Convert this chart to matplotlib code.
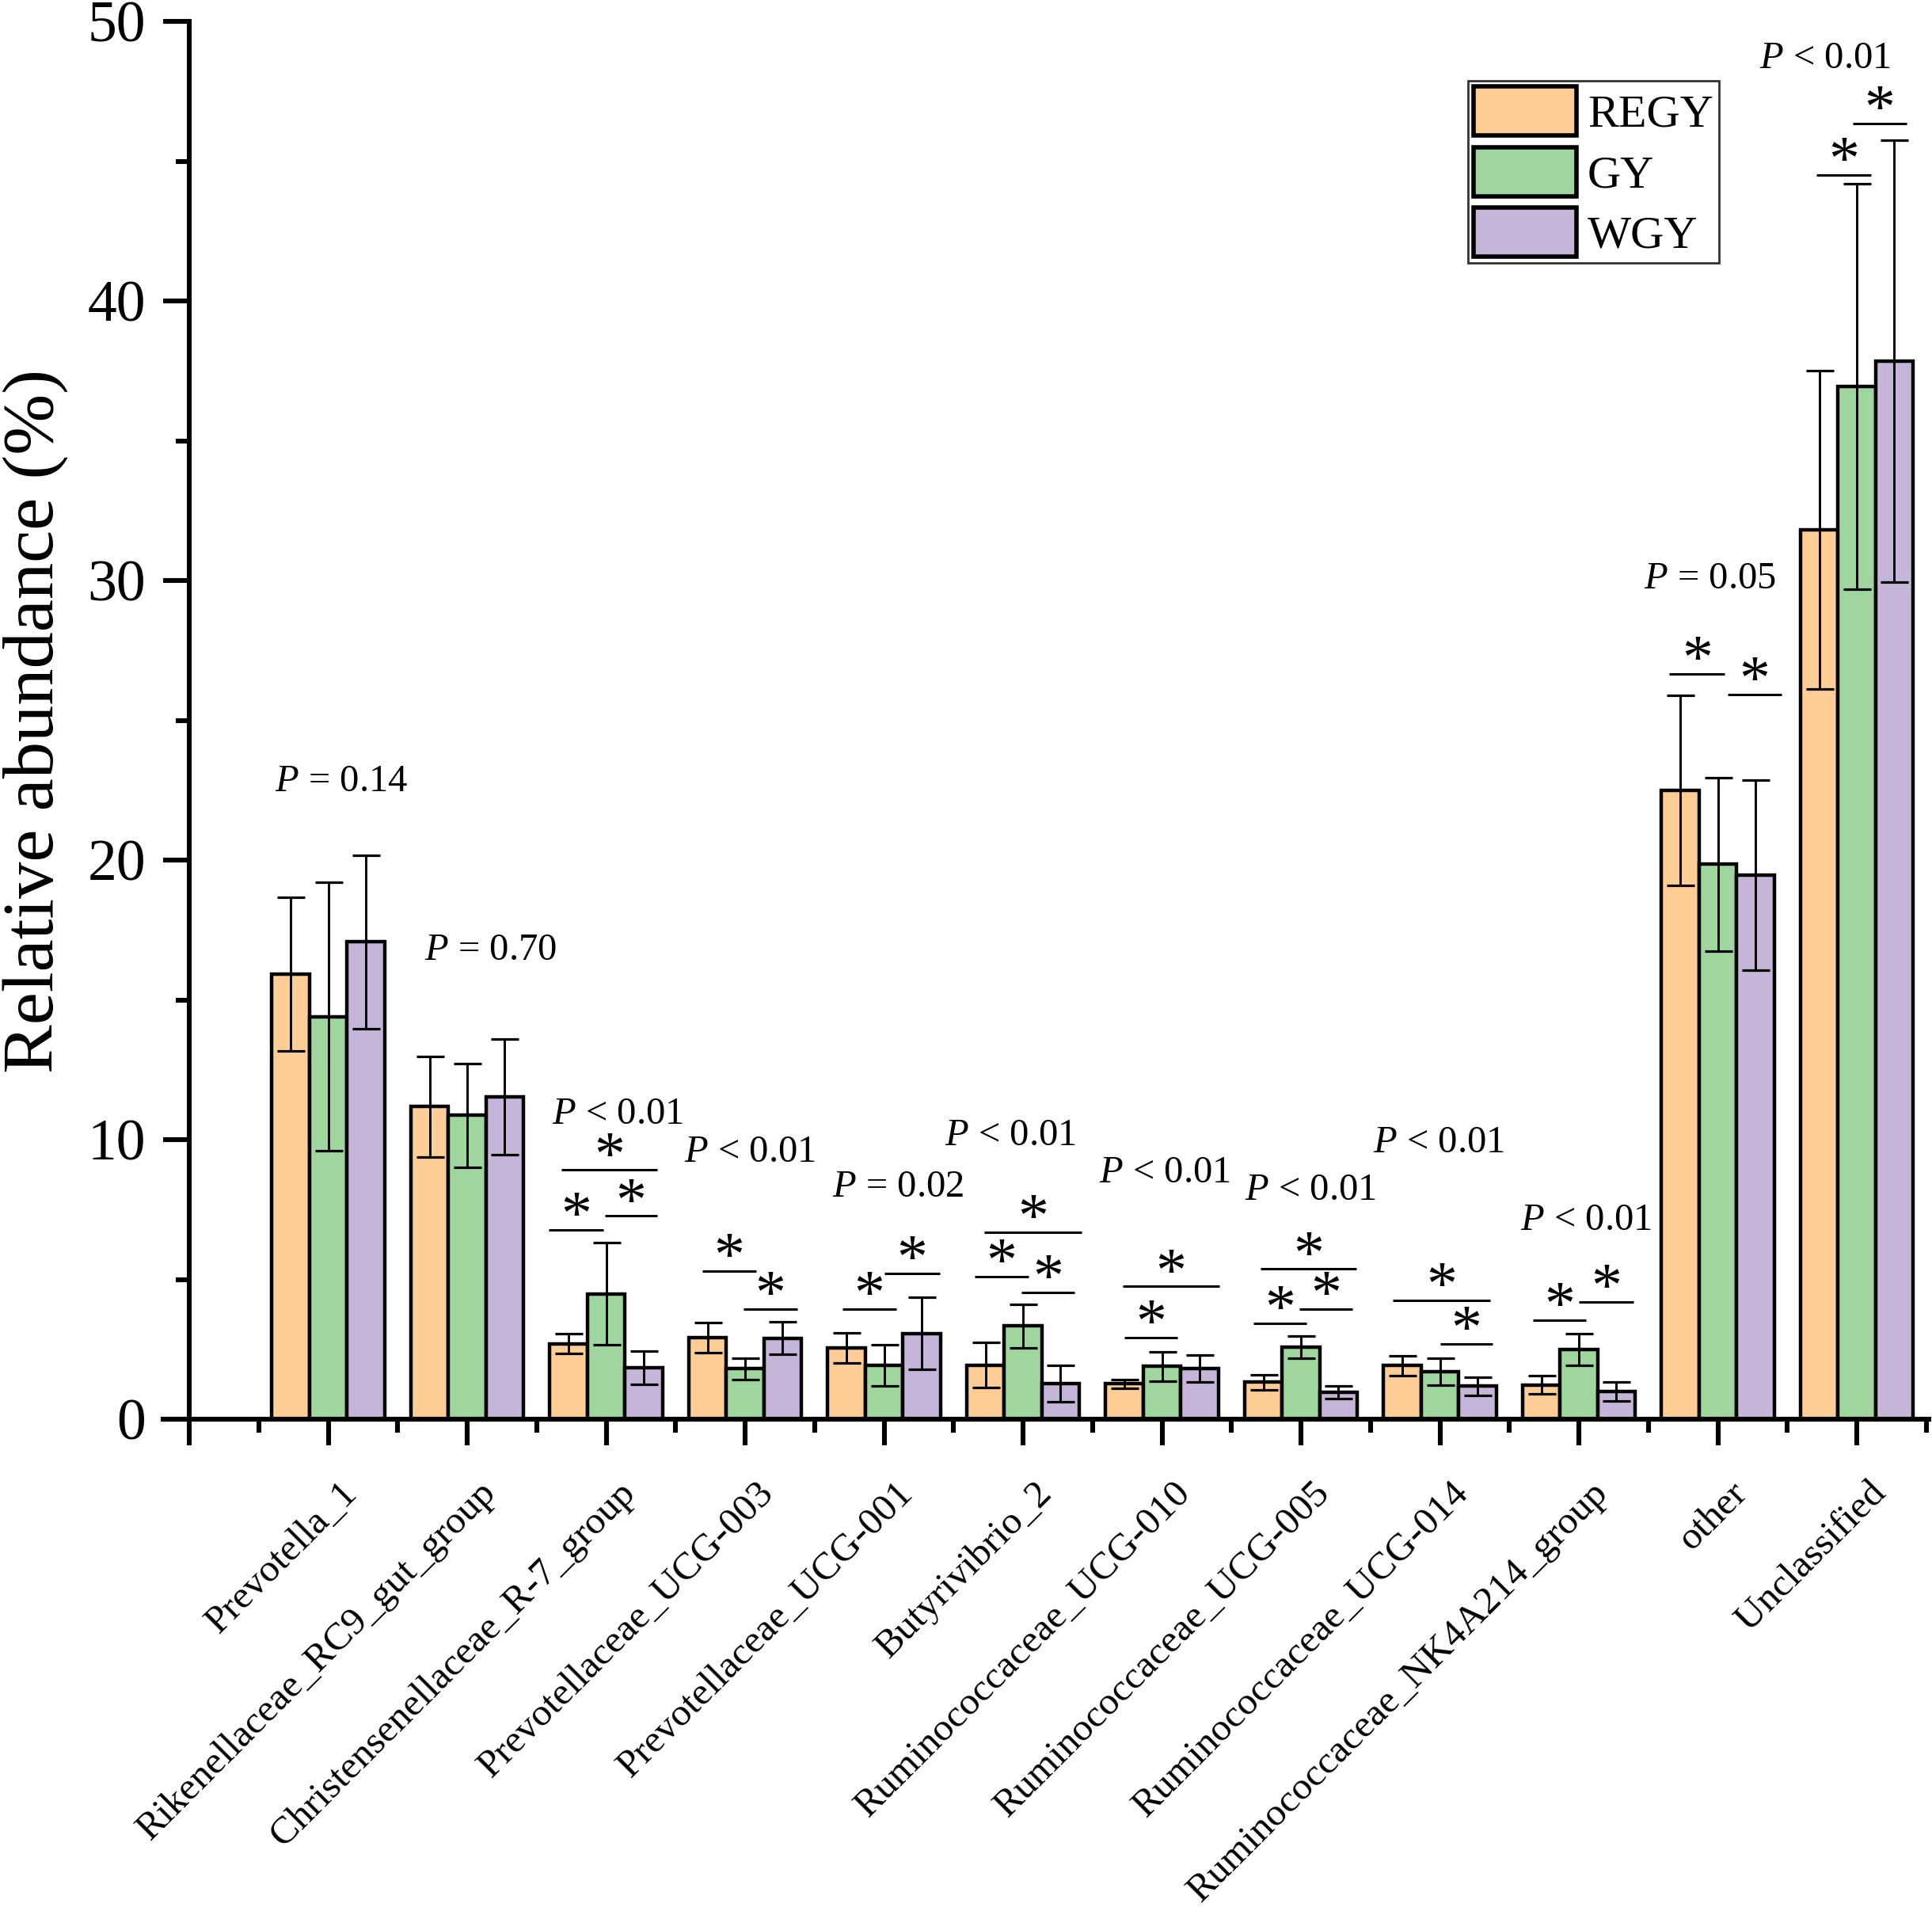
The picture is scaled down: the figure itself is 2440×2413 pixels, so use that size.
import matplotlib
matplotlib.use("Agg")
import matplotlib.pyplot as plt
import matplotlib.transforms as mtransforms
import numpy as np
from matplotlib.patches import Patch

plt.rcParams['font.family'] = ['Liberation Serif', 'DejaVu Serif']
plt.rcParams['mathtext.fontset'] = 'custom'
plt.rcParams['mathtext.it'] = 'Liberation Serif:italic'
plt.rcParams['mathtext.rm'] = 'Liberation Serif'

# ---------------- data ----------------
categories = ['Prevotella_1', 'Rikenellaceae_RC9_gut_group', 'Christensenellaceae_R-7_group',
              'Prevotellaceae_UCG-003', 'Prevotellaceae_UCG-001', 'Butyrivibrio_2',
              'Ruminococcaceae_UCG-010', 'Ruminococcaceae_UCG-005', 'Ruminococcaceae_UCG-014',
              'Ruminococcaceae_NK4A214_group', 'other', 'Unclassified']
groups = ['REGY', 'GY', 'WGY']

regy = [15.93, 11.18, 2.70, 2.93, 2.55, 1.94, 1.27, 1.32, 1.92, 1.23, 22.49, 31.82]
regy_err = [2.75, 1.80, 0.35, 0.54, 0.55, 0.82, 0.16, 0.27, 0.35, 0.33, 3.40, 5.70]
gy = [14.40, 10.87, 4.49, 1.80, 1.92, 3.33, 1.89, 2.57, 1.70, 2.50, 19.85, 36.95]
gy_err = [4.80, 1.85, 1.83, 0.39, 0.73, 0.78, 0.52, 0.40, 0.49, 0.57, 3.10, 7.25]
wgy = [17.08, 11.53, 1.85, 2.90, 3.07, 1.28, 1.81, 0.96, 1.18, 0.99, 19.45, 37.85]
wgy_err = [3.10, 2.07, 0.60, 0.58, 1.29, 0.66, 0.48, 0.23, 0.32, 0.35, 3.40, 7.90]

p_labels = ['$P$ = 0.14', '$P$ = 0.70', '$P$ < 0.01', '$P$ < 0.01', '$P$ = 0.02', '$P$ < 0.01',
            '$P$ < 0.01', '$P$ < 0.01', '$P$ < 0.01', '$P$ < 0.01', '$P$ = 0.05', '$P$ < 0.01']
# annotation placement (x in category units, y = text baseline)
p_x = [1.095, 2.17, 3.083, 4.034, 5.10, 5.91, 7.02, 8.07, 8.99, 10.05, 10.94, 11.77]
p_y = [22.47, 16.42, 10.58, 9.21, 7.97, 9.80, 8.48, 7.85, 9.55, 6.76, 29.71, 48.33]

# significance bars: (category index, x start offset, x end offset, height)
sig_lines = [
    (2, -0.415, -0.02, 6.78), (2, -0.01, 0.37, 7.27), (2, -0.325, 0.37, 8.91),
    (3, -0.31, 0.08, 5.29), (3, -0.01, 0.375, 3.95),
    (4, -0.30, 0.09, 3.95), (4, 0.00, 0.40, 5.22),
    (5, -0.35, 0.04, 5.10), (5, -0.01, 0.37, 4.53), (5, -0.28, 0.42, 6.69),
    (6, -0.27, 0.11, 2.91), (6, -0.28, 0.41, 4.75),
    (7, -0.34, 0.04, 3.43), (7, -0.01, 0.37, 3.95), (7, -0.29, 0.40, 5.37),
    (8, -0.34, 0.36, 4.25), (8, 0.00, 0.38, 2.70),
    (9, -0.33, 0.05, 3.54), (9, 0.00, 0.39, 4.20),
    (10, -0.35, 0.05, 26.67), (10, 0.07, 0.46, 25.93),
    (11, -0.29, 0.10, 44.50), (11, -0.03, 0.36, 46.35),
]

colors = ['#FECD95', '#9ED69E', '#C5B5D8']

# ---------------- figure ----------------
fig = plt.figure(figsize=(12.2, 12.065), dpi=200)
ax = fig.add_axes([0.0843, 0.25735, 0.9142, 0.73145])

x = np.arange(1, len(categories) + 1)
w = 0.27
lw_axis = 2.2
series = [(regy, regy_err), (gy, gy_err), (wgy, wgy_err)]
for i, (vals, errs) in enumerate(series):
    pos = x + (i - 1) * w
    ax.bar(pos, vals, width=w, color=colors[i], edgecolor='black', linewidth=1.6,
           label=groups[i], zorder=2)
    ax.errorbar(pos, vals, yerr=errs, fmt='none', ecolor='black', elinewidth=1.05,
                capsize=6.3, capthick=1.15, zorder=3)

for (g, x0, x1, yv) in sig_lines:
    c = g + 1
    ax.plot([c + x0, c + x1], [yv, yv], color='black', lw=1.1, solid_capstyle='butt', zorder=4)
    ax.annotate('*', xy=(c + (x0 + x1) / 2, yv), xytext=(0, -1.5), textcoords='offset points',
                ha='center', va='baseline', fontsize=28, zorder=5)

for lab, px, py in zip(p_labels, p_x, p_y):
    ax.text(px, py, lab, ha='center', va='baseline', fontsize=17.5)

ax.set_xlim(-0.19, 12.52)
ax.set_ylim(0, 50)
ax.spines['top'].set_visible(False)
ax.spines['right'].set_visible(False)
ax.spines['left'].set_position(('data', 0))
ax.spines['left'].set_linewidth(lw_axis)
ax.spines['bottom'].set_linewidth(lw_axis)

ax.set_yticks(np.arange(0, 51, 10))
ax.set_yticks(np.arange(5, 50, 10), minor=True)
ax.set_xticks(np.arange(0, 13, 1))
ax.set_xticks(np.arange(0.5, 12.6, 1), minor=True)
ax.set_xticklabels([''] + categories)
ax.tick_params(axis='both', which='major', length=12, width=lw_axis, direction='out')
ax.tick_params(axis='both', which='minor', length=6, width=lw_axis, direction='out')
ax.tick_params(axis='y', labelsize=26.5, pad=7.7)
ax.tick_params(axis='x', labelsize=17.8, pad=13.5)
shift = mtransforms.ScaledTranslation(5 / 72, 0, fig.dpi_scale_trans)
for t in ax.get_xticklabels():
    t.set_rotation(45)
    t.set_ha('right')
    t.set_va('top')
    t.set_rotation_mode('anchor')
    t.set_transform(t.get_transform() + shift)

fig.text(45 / 2440, 1 - 910 / 2413, 'Relative abundance (%)', rotation=90,
         ha='center', va='center', fontsize=33.3)

handles = [Patch(facecolor=colors[i], edgecolor='black', linewidth=2.0, label=groups[i])
           for i in range(3)]
leg = fig.legend(handles=handles, loc='upper left', bbox_to_anchor=(1854 / 2440, 1 - 102 / 2413),
                 fontsize=21, frameon=True, fancybox=False, shadow=False, borderpad=0.12,
                 handlelength=2.22, handleheight=1.26, labelspacing=0.24, handletextpad=0.25,
                 borderaxespad=0)
leg.get_frame().set_edgecolor('black')
leg.get_frame().set_linewidth(1.0)

fig.savefig('out.png', dpi=200)
